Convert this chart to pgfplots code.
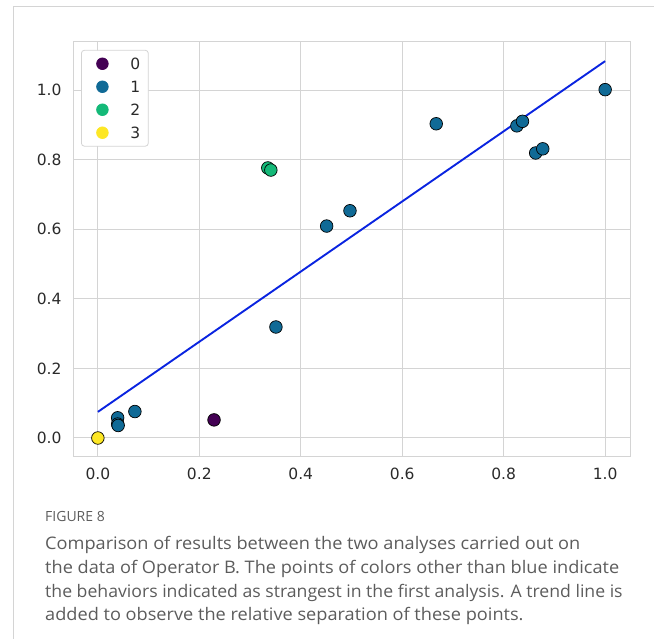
\documentclass[border=0pt]{standalone}
\usepackage{pgfplots}
\pgfplotsset{compat=1.18}
\usepackage{fontspec}
\newfontfamily\dejavu{DejaVu Sans}
\newfontfamily\capfont{Open Sans}
\definecolor{c0}{HTML}{440154}
\definecolor{c1}{HTML}{106A96}
\definecolor{c2}{HTML}{14B978}
\definecolor{c3}{HTML}{FDE725}
\definecolor{trend}{HTML}{0A24E0}
\definecolor{gridc}{HTML}{D4D4D4}
\definecolor{tickc}{HTML}{2A2A2A}
\definecolor{capc}{HTML}{5C5C5C}
\begin{document}
\begin{tikzpicture}[x=1bp,y=1bp]
\useasboundingbox (0,0) rectangle (654,639);
\draw[gridc, line width=1bp] (13,0) -- (13,632) -- (654,632);
\begin{axis}[
  at={(73bp,182bp)}, anchor=south west,
  scale only axis, width=557bp, height=415bp,
  xmin=-0.049, xmax=1.049, ymin=-0.0546, ymax=1.138,
  xtick={0,0.2,0.4,0.6,0.8,1.0}, ytick={0,0.2,0.4,0.6,0.8,1.0},
  xticklabels={0.0,0.2,0.4,0.6,0.8,1.0}, yticklabels={0.0,0.2,0.4,0.6,0.8,1.0},
  major tick length=0pt,
  grid=major, grid style={gridc, line width=1bp},
  axis line style={gridc, line width=1bp},
  /pgf/number format/assume math mode=true,
  ticklabel style={font=\dejavu\fontsize{15.5bp}{15.5bp}\selectfont, text=tickc},
  xticklabel style={yshift=-7bp},
  yticklabel style={xshift=-8bp},
  legend style={at={(0.0144,0.981)}, anchor=north west, draw=gridc, line width=0.8bp,
    rounded corners=3bp, fill=white, font=\dejavu\fontsize{15.5bp}{15.5bp}\selectfont, text=tickc,
    inner xsep=5bp, inner ysep=6bp, row sep=8bp,
    nodes={text height=11bp, text depth=0bp, inner xsep=3bp}},
  legend image code/.code={\path[draw=none, fill=none] (-16bp,-5bp) rectangle (25bp,5bp);
    \draw[only marks, #1] plot coordinates {(0bp,0bp)};},
  legend cell align=left,
]
\addlegendimage{only marks, mark=*, mark size=5.8bp, draw=none, fill=c0, c0}
\addlegendentry{0}
\addlegendimage{only marks, mark=*, mark size=5.8bp, draw=none, fill=c1, c1}
\addlegendentry{1}
\addlegendimage{only marks, mark=*, mark size=5.8bp, draw=none, fill=c2, c2}
\addlegendentry{2}
\addlegendimage{only marks, mark=*, mark size=5.8bp, draw=none, fill=c3, c3}
\addlegendentry{3}
\addplot[forget plot, only marks, mark=*, mark size=6.3bp, mark options={fill=c1, draw=black, line width=0.7bp}]
 coordinates {(0.039,0.058) (0.039,0.040) (0.040,0.036) (0.073,0.076) (0.351,0.319)
 (0.451,0.609) (0.497,0.653) (0.667,0.903) (0.826,0.897) (0.837,0.910)
 (0.863,0.819) (0.877,0.831) (1.0,1.001)};
\addplot[forget plot, only marks, mark=*, mark size=6.3bp, mark options={fill=c0, draw=black, line width=0.7bp}]
 coordinates {(0.229,0.052)};
\addplot[forget plot, only marks, mark=*, mark size=6.3bp, mark options={fill=c2, draw=black, line width=0.7bp}]
 coordinates {(0.335,0.776) (0.341,0.770)};
\addplot[forget plot, only marks, mark=*, mark size=6.3bp, mark options={fill=c3, draw=black, line width=0.7bp}]
 coordinates {(0.0,0.0)};
\addplot[forget plot, trend, line width=1.9bp] coordinates {(0,0.075) (1.0,1.083)};
\end{axis}
\node[anchor=base west, inner sep=0, text=capc, font=\capfont\fontsize{14bp}{14bp}\selectfont] at (45,117) {FIGURE 8};
\begin{scope}[every node/.style={anchor=base west, inner sep=0, text=capc, font=\capfont\fontsize{17.3bp}{17.3bp}\selectfont}]
\node at (45,89) {\scalebox{1.05}[1]{Comparison of results between the two analyses carried out on}};
\node at (45,65) {\scalebox{1.05}[1]{the data of Operator B. The points of colors other than blue indicate}};
\node at (45,41) {\scalebox{1.02}[1]{the behaviors indicated as strangest in the first analysis. A trend line is}};
\node at (45,18) {\scalebox{1.05}[1]{added to observe the relative separation of these points.}};
\end{scope}
\end{tikzpicture}
\end{document}
